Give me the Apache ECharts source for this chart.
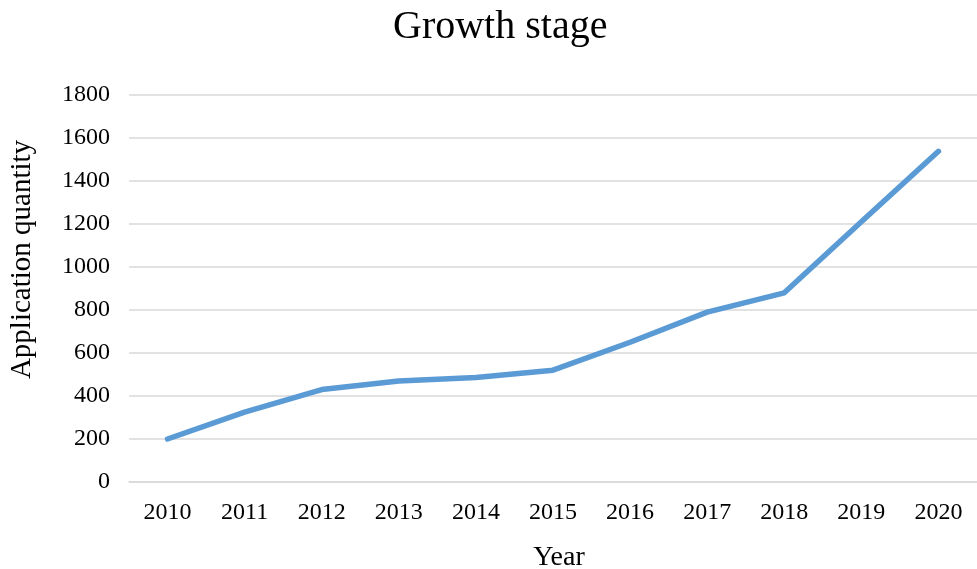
<!DOCTYPE html>
<html>
<head>
<meta charset="utf-8">
<script src="https://cdn.jsdelivr.net/npm/echarts@6/dist/echarts.min.js"></script>
<style>html,body{margin:0;padding:0;background:#fff;}#c{width:977px;height:569px;}</style>
</head>
<body>
<div id="c"></div>
<script>
const years = ['2010','2011','2012','2013','2014','2015','2016','2017','2018','2019','2020'];
const applications = [200, 325, 430, 470, 486, 520, 650, 790, 880, 1210, 1538];
const titleText = 'Growth stage';
const xName = 'Year';
const yName = 'Application quantity';

const font = '"Liberation Serif", "Times New Roman", serif';
const chart = echarts.init(document.getElementById('c'), null, {renderer: 'canvas'});
chart.setOption({
  animation: false,
  backgroundColor: '#fff',
  title: {
    text: titleText, left: 388, top: 2,
    textStyle: {fontFamily: font, fontSize: 40, fontWeight: 'normal', color: '#000'}
  },
  grid: {left: 129, right: 0, top: 95, bottom: 87, containLabel: false, outerBoundsMode: 'none'},
  xAxis: {
    type: 'category', data: years, boundaryGap: true,
    name: xName, nameLocation: 'middle', nameGap: 62,
    nameTextStyle: {fontFamily: font, fontSize: 28, color: '#000', padding: [0, 0, 0, 12]},
    axisLine: {lineStyle: {color: '#d9d9d9', width: 1.5}},
    axisTick: {show: false},
    axisLabel: {fontFamily: font, fontSize: 24, color: '#000', margin: 19}
  },
  yAxis: {
    type: 'value', min: 0, max: 1800, interval: 200,
    name: yName, nameLocation: 'middle', nameGap: 92, nameRotate: 90,
    nameTextStyle: {fontFamily: font, fontSize: 29, color: '#000', padding: [0, 0, 0, 58]},
    axisLine: {show: false}, axisTick: {show: false},
    splitLine: {lineStyle: {color: '#d9d9d9', width: 1.5}},
    axisLabel: {fontFamily: font, fontSize: 24, color: '#000', margin: 19, formatter: v => String(v)}
  },
  series: [{
    type: 'line', data: applications, showSymbol: false, symbol: 'none',
    lineStyle: {color: '#5B9BD5', width: 5.5, cap: 'round', join: 'round'}
  }]
});
</script>
</body>
</html>
